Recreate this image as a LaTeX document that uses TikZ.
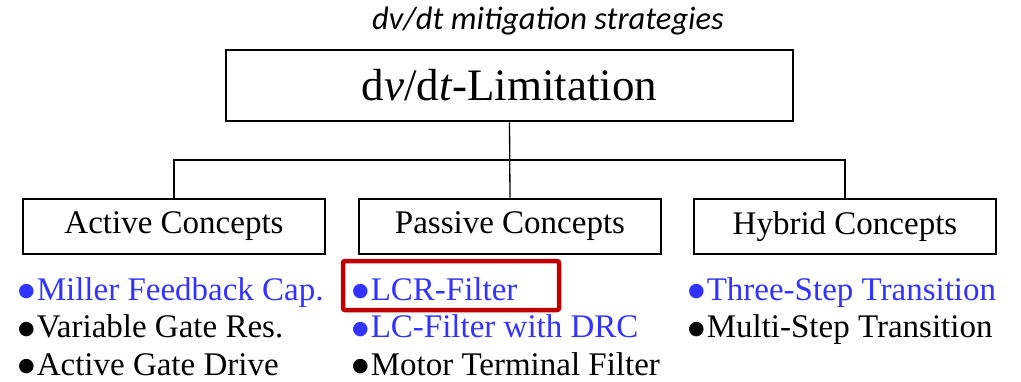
\documentclass[tikz,border=0pt]{standalone}
\usepackage{fontspec}
\setmainfont{Liberation Serif}
\newfontfamily\capfont{Carlito}
\newfontfamily\dotfont{DejaVu Sans}
\definecolor{itemblue}{RGB}{51,51,255}
\definecolor{markred}{RGB}{192,0,0}

\newcommand{\dotmark}{\raisebox{3.5pt}{\dotfont\fontsize{19}{19}\selectfont ●}\kern2pt}

\tikzset{
  headbox/.style={draw, line width=2.6pt, inner sep=0pt},
  conceptbox/.style={headbox, minimum width=302pt, minimum height=55pt,
    font=\fontsize{33}{38}\selectfont},
  entry/.style={anchor=base west, inner sep=0pt, font=\fontsize{33}{38}\selectfont}
}

\begin{document}
\begin{tikzpicture}[x=1pt, y=-1pt]
  \useasboundingbox (0,0) rectangle (1021,381);

  \node[anchor=base, inner sep=0pt, font=\capfont\itshape\fontsize{32.5}{37}\selectfont]
    (caption) at (548,29) {dv/dt mitigation strategies};

  \node[headbox, minimum width=567pt, minimum height=71pt,
    font=\fontsize{45}{50}\selectfont] (limit) at (509.5,85.5) {d\textit{v}/d\textit{t}-Limitation};

  \node[conceptbox] (active)  at (174,226.5) {Active Concepts};
  \node[conceptbox] (passive) at (510,226.5) {Passive Concepts};
  \node[conceptbox] (hybrid)  at (845,226.5) {Hybrid Concepts};

  % tree lines
  \coordinate (bus) at (510,160);
  \begin{scope}[line width=1.3pt]
    \draw (limit.south) -- (passive.north);
    \draw (active.north) -- (active.north |- bus) -- (hybrid.north |- bus) -- (hybrid.north);
  \end{scope}

  % active
  \node[entry, text=itemblue] (miller)  at (18,300) {\dotmark Miller Feedback Cap.};
  \node[entry] (vargate) at (18,337.5) {\dotmark Variable Gate Res.};
  \node[entry] (agd)     at (18,375) {\dotmark Active Gate Drive};

  % passive
  \node[entry, text=itemblue] (lcr) at (352,300) {\dotmark LCR-Filter};
  \node[entry, text=itemblue] (lcdrc) at (352,337.5) {\dotmark LC-Filter with DRC};
  \node[entry] (motor) at (352,375) {\dotmark Motor Terminal Filter};

  % hybrid
  \node[entry, text=itemblue] (threestep) at (688,300) {\dotmark Three-Step Transition};
  \node[entry] (multistep) at (688,337.5) {\dotmark Multi-Step Transition};

  \draw[markred, line width=4.5pt, rounded corners=2pt] (343,261) rectangle (559,310);

\end{tikzpicture}
\end{document}
